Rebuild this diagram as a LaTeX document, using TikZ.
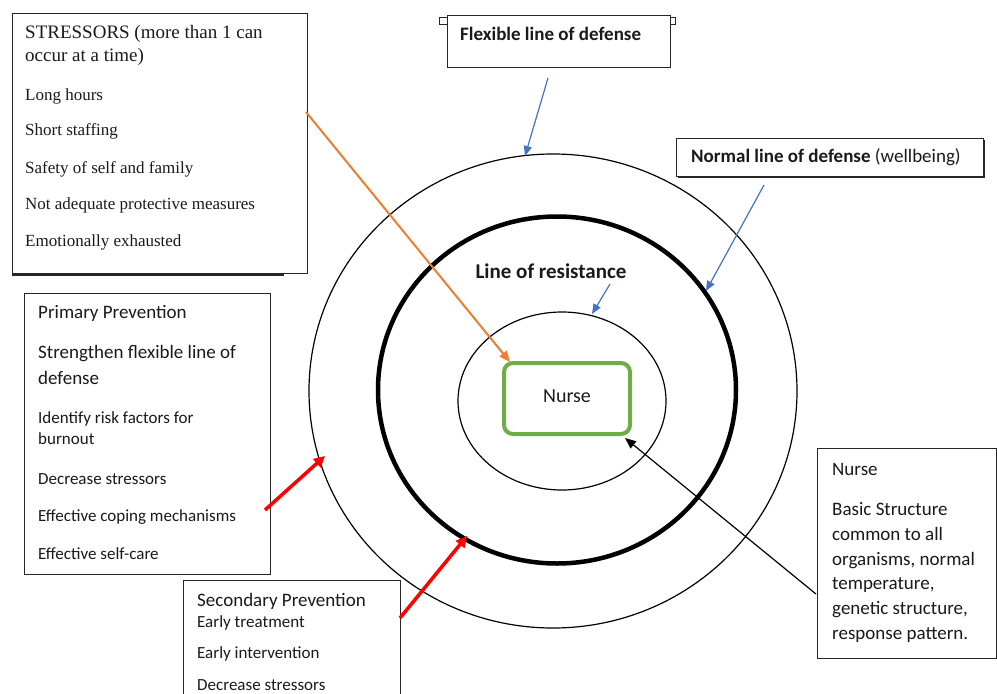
\documentclass[tikz,border=0pt]{standalone}
\usepackage{fontspec}
\setmainfont{Liberation Serif}
\newfontfamily\calfont{Carlito}
\usetikzlibrary{arrows.meta,shapes.geometric}
\definecolor{blueA}{HTML}{4472C4}
\definecolor{orangeA}{HTML}{ED7D31}
\definecolor{greenA}{HTML}{70AD47}
\definecolor{redA}{HTML}{FF0000}
\definecolor{txtc}{HTML}{1A1A1A}
\begin{document}
\begin{tikzpicture}[x=1pt,y=-1pt,
  box/.style={draw=black!85, line width=1.2pt, anchor=north west, inner sep=0pt, fill=white},
  txt/.style={anchor=west, inner sep=0pt, text=txtc, text height=1.2em, text depth=0.12em},
  tms/.style={txt, font=\fontsize{17}{20}\selectfont},
  tmsbig/.style={txt, font=\fontsize{19}{22}\selectfont},
  cbig/.style={txt, font=\calfont\fontsize{19}{22}\selectfont},
  csml/.style={txt, font=\calfont\fontsize{17}{20}\selectfont},
  cbold/.style={txt, font=\calfont\bfseries\fontsize{19}{22}\selectfont},
  ring/.style={draw=black, ellipse, inner sep=0pt, line width=1.2pt},
  bluearrow/.style={draw=blueA, line width=1.2pt, -{Triangle[length=10pt,width=8pt]}},
  redarrow/.style={draw=redA, line width=3.5pt, -{Triangle[length=11pt,width=11pt]}},
]
\useasboundingbox (0,0) rectangle (997,694);
\fill[white] (0,0) rectangle (997,694);

% rings
\node[ring, minimum width=488pt, minimum height=474pt] (outer) at (553,391) {};
\node[ring, line width=4.5pt, minimum width=358pt, minimum height=347pt] (normal) at (557,390) {};
\node[ring, minimum width=208pt, minimum height=178pt] (inner) at (562,401) {};
\node[draw=greenA, line width=4pt, rounded corners=9pt, minimum width=126pt, minimum height=71pt, inner sep=0pt] (core) at (567,398.5) {};
\node[txt, anchor=center, font=\calfont\fontsize{20}{24}\selectfont] (coretxt) at (567,397) {Nurse};
\node[txt, anchor=center, font=\calfont\bfseries\fontsize{21}{25}\selectfont] (lor) at (551,273) {Line of resistance};

% Stressors box
\node[box, minimum width=295pt, minimum height=260pt] (stress) at (12,13) {};
\draw[black!85, line width=2pt] (12,275) -- (284,275);
\node[tmsbig] (s1) at (25,33) {STRESSORS (more than 1 can};
\node[tmsbig] (s2) at (25,56) {occur at a time)};
\node[tms] (s3) at (25,95) {Long hours};
\node[tms] (s4) at (25,130) {Short staffing};
\node[tms] (s5) at (25,168) {Safety of self and family};
\node[tms] (s6) at (25,204) {Not adequate protective measures};
\node[tms] (s7) at (25,241) {Emotionally exhausted};

% Flexible box
\draw[black!85, line width=1pt, fill=white] (439,17) rectangle (447,24);
\draw[black!85, line width=1pt, fill=white] (670,17) rectangle (675,24);
\node[box, minimum width=223pt, minimum height=52pt] (flex) at (447,15) {};
\node[cbold] (flextxt) at (460,35) {Flexible line of defense};

% Normal box
\node[box, minimum width=307pt, minimum height=38pt] (nbox) at (676,138) {};
\draw[black!85, line width=2pt] (678,177) -- (984,177) -- (984,140);
\node[txt, font=\calfont\fontsize{19}{22}\selectfont] (ntxt) at (691,157) {\textbf{Normal line of defense} (wellbeing)};

% Primary prevention box
\node[box, minimum width=246pt, minimum height=281pt] (prim) at (24,293) {};
\node[cbig] (p1) at (38,313) {Primary Prevention};
\node[cbig] (p2) at (38,353) {Strengthen flexible line of};
\node[cbig] (p3) at (38,379) {defense};
\node[csml] (p4) at (38,418) {Identify risk factors for};
\node[csml] (p5) at (38,439) {burnout};
\node[csml] (p6) at (38,479) {Decrease stressors};
\node[csml] (p7) at (38,516) {Effective coping mechanisms};
\node[csml] (p8) at (38,554) {Effective self-care};

% Secondary prevention box
\node[box, minimum width=217pt, minimum height=130pt] (sec) at (183,580) {};
\node[cbig] (q1) at (197,601) {Secondary Prevention};
\node[csml] (q2) at (197,622) {Early treatment};
\node[csml] (q3) at (197,653) {Early intervention};
\node[csml] (q4) at (197,685) {Decrease stressors};

% Nurse box
\node[box, minimum width=179pt, minimum height=210pt] (nurse) at (817,448) {};
\node[cbig] (n1) at (832,470) {Nurse};
\node[cbig] (n2) at (832,510) {Basic Structure};
\node[cbig] (n3) at (832,535) {common to all};
\node[cbig] (n4) at (832,560) {organisms, normal};
\node[cbig] (n5) at (832,584) {temperature,};
\node[cbig] (n6) at (832,609) {genetic structure,};
\node[cbig] (n7) at (832,634) {response pattern.};

% arrow end points
\coordinate (fa) at (548,78);   \coordinate (fb) at (525,156);
\coordinate (na) at (764,185);  \coordinate (nb) at (706,291);
\coordinate (la) at (610,284);  \coordinate (lb) at (592,314);
\coordinate (oa) at (306,112);  \coordinate (ob) at (510,362);
\coordinate (ka) at (816,594);  \coordinate (kb) at (625,438);
\coordinate (pa) at (265,510);  \coordinate (pb) at (325,456);
\coordinate (sa) at (400,618);  \coordinate (sb) at (467,536);

\draw[bluearrow] (fa) -- (fb);
\draw[bluearrow] (na) -- (nb);
\draw[bluearrow] (la) -- (lb);
\draw[draw=orangeA, line width=2pt, -{Triangle[length=11pt,width=9pt]}] (oa) -- (ob);
\draw[draw=black, line width=1.2pt, -{Triangle[length=11pt,width=9pt]}] (ka) -- (kb);
\draw[redarrow] (pa) -- (pb);
\draw[redarrow] (sa) -- (sb);
\end{tikzpicture}
\end{document}
